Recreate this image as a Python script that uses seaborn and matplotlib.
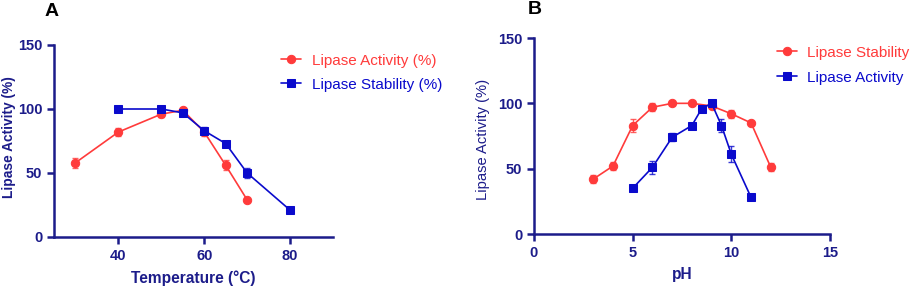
import numpy as np
import pandas as pd
import matplotlib
matplotlib.use("Agg")
import matplotlib.pyplot as plt
import seaborn as sns

# Panel A data
tempA_act = [30, 40, 50, 55, 60, 65, 70]
actA = [58, 82, 96, 99, 82, 56, 29]
actA_err = [4, 3, 2, 1, 3, 4, 1]
tempA_stab = [40, 50, 55, 60, 65, 70, 80]
stabA = [100, 100, 97, 83, 73, 50, 21]
stabA_err = [1, 1, 2, 3, 2, 4, 1]

# Panel B data
ph_stab = [3, 4, 5, 6, 7, 8, 9, 10, 11, 12]
stabB = [42, 52, 83, 97, 100, 100, 98, 92, 85, 51]
stabB_err = [3, 3, 5, 3, 1, 1, 1, 3, 1, 3]
ph_act = [5, 6, 7, 8, 8.5, 9, 9.5, 10, 11]
actB = [35, 51, 74, 83, 96, 100, 83, 61, 28]
actB_err = [1, 5, 3, 1, 1, 1, 5, 6, 1]

NAVY = "#1c1c8a"
RED = "#ff3b3b"
BLUE = "#0a0acc"

sns.set_theme(style="ticks")
plt.rcParams['font.family'] = ['Liberation Sans', 'DejaVu Sans']

fig = plt.figure(figsize=(9.2, 2.88), dpi=100)
W, H = 920, 288
axA = fig.add_axes([54 / W, (H - 237) / H, (333 - 54) / W, (237 - 45) / H])
axB = fig.add_axes([534 / W, (H - 234) / H, (830 - 534) / W, (234 - 38) / H])


def draw(ax, x, y, err, color, marker, ms, label):
    df = pd.DataFrame({"x": x, "y": y})
    ax.errorbar(x, y, yerr=err, fmt="none", ecolor=color, elinewidth=1.0,
                capsize=2.5, capthick=1.0, alpha=0.8, zorder=2)
    sns.lineplot(data=df, x="x", y="y", ax=ax, color=color, marker=marker,
                 markersize=ms, markeredgecolor=color, linewidth=1.2,
                 label=label, zorder=3)


draw(axA, tempA_act, actA, actA_err, RED, "o", 6, "Lipase Activity (%)")
draw(axA, tempA_stab, stabA, stabA_err, BLUE, "s", 6, "Lipase Stability (%)")
draw(axB, ph_stab, stabB, stabB_err, RED, "o", 6, "Lipase Stability")
draw(axB, ph_act, actB, actB_err, BLUE, "s", 6.3, "Lipase Activity")

axA.set_xlim(25, 90)
axA.set_xticks([40, 60, 80])
axB.set_xlim(0, 15)
axB.set_xticks([0, 5, 10, 15])

for ax in (axA, axB):
    ax.set_ylim(0, 150)
    ax.set_yticks([0, 50, 100, 150])
    for s in ("top", "right"):
        ax.spines[s].set_visible(False)
    for s in ("left", "bottom"):
        ax.spines[s].set_color(NAVY)
        ax.spines[s].set_linewidth(1.8)
    ax.tick_params(colors=NAVY, width=1.8, length=5, labelsize=10.5,
                   direction="out")
    for lab in ax.get_xticklabels() + ax.get_yticklabels():
        lab.set_fontweight("bold")
        lab.set_color(NAVY)

axA.set_xlabel("Temperature (°C)", fontsize=11.2, fontweight="bold", color=NAVY, labelpad=5.5)
axA.set_ylabel("Lipase Activity (%)", fontsize=9.9, fontweight="bold", color=NAVY)
axA.yaxis.set_label_coords(-0.136, 0.518)
axB.set_xlabel("pH", fontsize=11.2, fontweight="bold", color=NAVY, labelpad=5.5)
axB.set_ylabel("Lipase Activity (%)", fontsize=10.6, color=NAVY)
axB.yaxis.set_label_coords(-0.149, 0.48)

legA = axA.legend(loc="upper left", bbox_to_anchor=(0.815, 0.954), frameon=False,
                  fontsize=11, handlelength=1.3, handletextpad=0.7, labelspacing=0.65,
                  borderpad=0, borderaxespad=0)
for t, c in zip(legA.get_texts(), [RED, BLUE]):
    t.set_color(c)
legB = axB.legend(loc="upper left", bbox_to_anchor=(0.82, 0.96), frameon=False,
                  fontsize=11, handlelength=1.3, handletextpad=0.7, labelspacing=0.72,
                  borderpad=0, borderaxespad=0)
for t, c in zip(legB.get_texts(), [RED, BLUE]):
    t.set_color(c)

fig.text(45 / W, 1 - 11 / H, "A", fontsize=14, fontweight="bold", color="black", va="center")
fig.text(528 / W, 1 - 10 / H, "B", fontsize=14, fontweight="bold", color="black", va="center")

fig.savefig("out.png", dpi=100)
